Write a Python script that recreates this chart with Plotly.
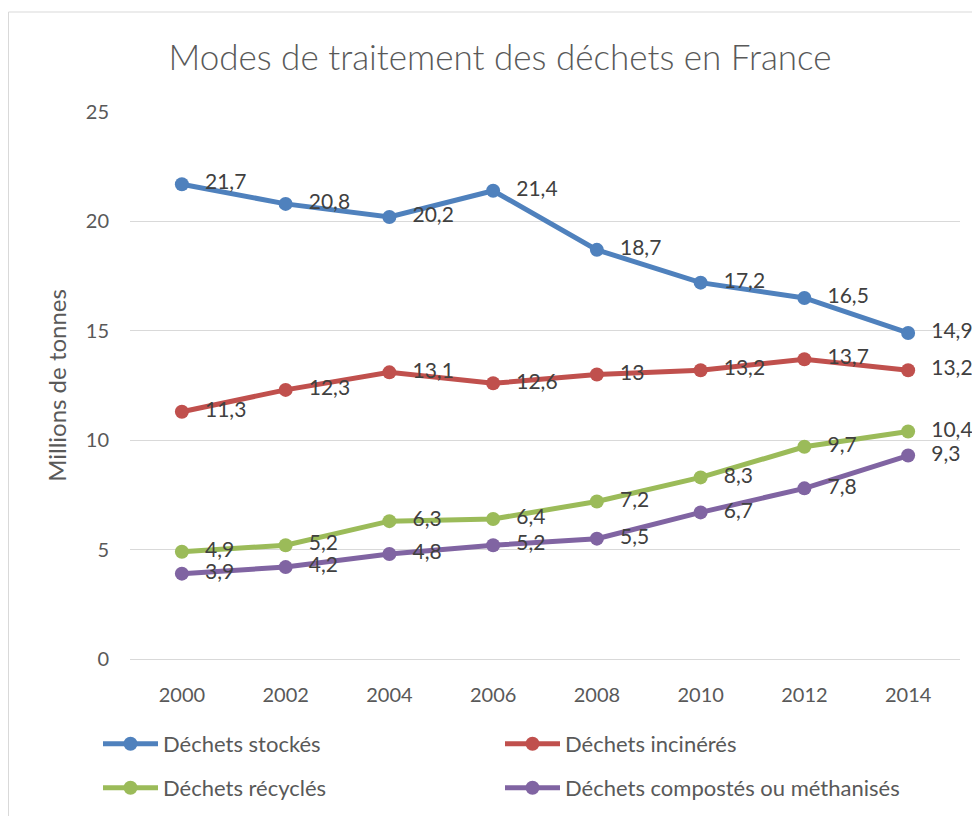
import plotly.graph_objects as go

years = ["2000", "2002", "2004", "2006", "2008", "2010", "2012", "2014"]
stockes = [21.7, 20.8, 20.2, 21.4, 18.7, 17.2, 16.5, 14.9]
incineres = [11.3, 12.3, 13.1, 12.6, 13, 13.2, 13.7, 13.2]
recycles = [4.9, 5.2, 6.3, 6.4, 7.2, 8.3, 9.7, 10.4]
composts = [3.9, 4.2, 4.8, 5.2, 5.5, 6.7, 7.8, 9.3]

series = [
    ("Déchets stockés", stockes, "#4F81BD", "legend"),
    ("Déchets incinérés", incineres, "#C0504D", "legend2"),
    ("Déchets récyclés", recycles, "#9BBB59", "legend3"),
    ("Déchets compostés ou méthanisés", composts, "#8064A2", "legend4"),
]

FONT = "Lato"
GREY = "#595959"
W, H = 972, 808
NB = "\u00a0\u00a0\u2009"

fig = go.Figure()
for name, vals, color, lg in series:
    fig.add_trace(go.Scatter(
        x=years, y=vals, name=name, mode="lines+markers+text",
        line=dict(color=color, width=5),
        marker=dict(color=color, size=14),
        text=[NB + f"{v:g}".replace(".", ",") for v in vals],
        textposition="middle right",
        textfont=dict(family=FONT, size=21, color="#404040"),
        legend=lg,
        cliponaxis=False,
    ))

leg_font = dict(family=FONT, size=22, color=GREY)
def leg(xpx, ypx):
    return dict(orientation="h", xref="container", x=xpx / W, xanchor="left",
                yref="container", y=1 - ypx / H, yanchor="middle",
                itemwidth=55,
                font=leg_font, bgcolor="rgba(0,0,0,0)")

fig.update_layout(
    width=W, height=H,
    margin=dict(l=122, r=20, t=104, b=157),
    paper_bgcolor="white", plot_bgcolor="white",
    font=dict(family=FONT, color=GREY, size=20),
    title=dict(text="Modes de traitement des déchets en France",
               x=492 / W, xanchor="center", y=1 - 50 / H, yanchor="middle",
               font=dict(family=FONT, size=35, color=GREY, weight=300)),
    xaxis=dict(type="category", range=[-0.5, 7.5], showgrid=False,
               showline=True, linecolor="#D9D9D9", linewidth=1,
               ticks="", ticklabelstandoff=18,
               tickfont=dict(family=FONT, size=20, color=GREY)),
    yaxis=dict(range=[0, 25], dtick=5, showgrid=True, gridcolor="#D9D9D9",
               gridwidth=1, zeroline=False, showline=False,
               ticks="", ticklabelstandoff=20,
               tickfont=dict(family=FONT, size=20, color=GREY),
               title=dict(text="Millions de tonnes", standoff=12,
                          font=dict(family=FONT, size=24, color=GREY))),
    legend=leg(90, 736),
    legend2=leg(492, 736),
    legend3=leg(90, 780),
    legend4=leg(492, 780),
    showlegend=True,
    separators=",.",
    shapes=[dict(type="rect", xref="paper", yref="paper",
                 x0=(0.5 - 122) / 830, x1=(990 - 122) / 830,
                 y0=(651 - 830) / 547, y1=(651 - 4) / 547,
                 line=dict(color="#D9D9D9", width=1), fillcolor="rgba(0,0,0,0)",
                 layer="below")],
)

fig.write_html("out.html")
